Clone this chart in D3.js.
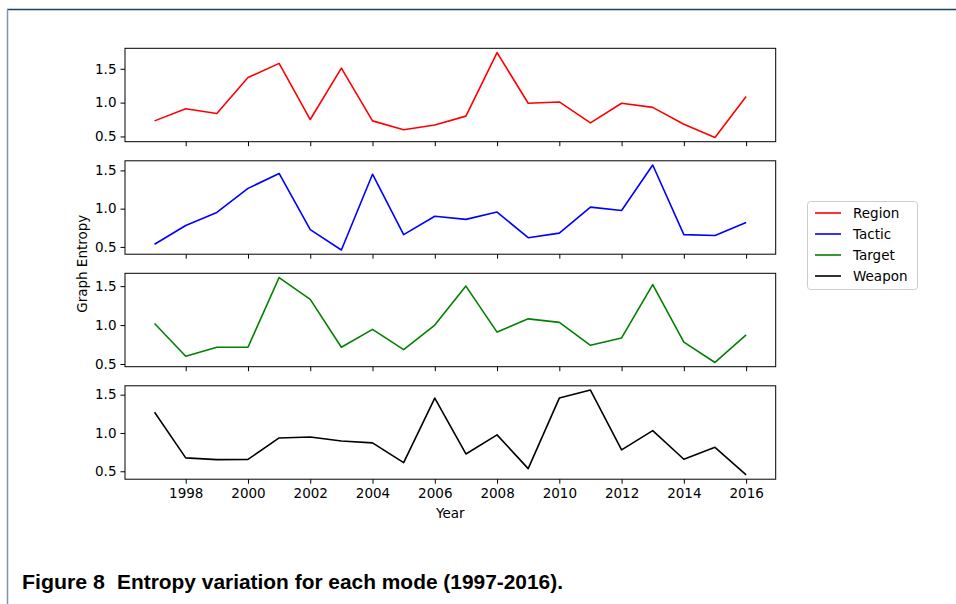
<!DOCTYPE html>
<html>
<head>
<meta charset="utf-8">
<script src="https://cdn.jsdelivr.net/npm/d3@7/dist/d3.min.js"></script>
<style>
  body { margin: 0; background: #fff; }
  svg { display: block; }
  .tick text { font-family: "DejaVu Sans", sans-serif; font-size: 13.5px; fill: #000; }
  .axis-label { font-family: "DejaVu Sans", sans-serif; font-size: 13.5px; fill: #000; }
</style>
</head>
<body>
<script>
// values
const years = [1997, 1998, 1999, 2000, 2001, 2002, 2003, 2004, 2005, 2006,
               2007, 2008, 2009, 2010, 2011, 2012, 2013, 2014, 2015, 2016];
const region = [0.73, 0.91, 0.84, 1.37, 1.58, 0.75, 1.51, 0.73, 0.60, 0.67,
                0.80, 1.74, 0.99, 1.01, 0.70, 0.99, 0.93, 0.68, 0.485, 1.09];
const tactic = [0.535, 0.78, 0.95, 1.265, 1.46, 0.725, 0.46, 1.45, 0.66, 0.90,
                0.86, 0.955, 0.62, 0.68, 1.02, 0.975, 1.57, 0.66, 0.648, 0.82];
const target = [1.02, 0.60, 0.715, 0.715, 1.61, 1.33, 0.715, 0.945, 0.685, 1.00,
                1.50, 0.91, 1.08, 1.035, 0.74, 0.835, 1.52, 0.78, 0.52, 0.875];
const weapon = [1.27, 0.675, 0.652, 0.655, 0.935, 0.948, 0.895, 0.87, 0.612, 1.455,
                0.726, 0.975, 0.535, 1.455, 1.56, 0.78, 1.03, 0.657, 0.813, 0.452];
const seriesNames = ['Region', 'Tactic', 'Target', 'Weapon'];
const seriesColors = ['#ff0000', '#0000ff', '#008000', '#000000'];
const yTicks = [0.5, 1.0, 1.5];
const xTicks = [1998, 2000, 2002, 2004, 2006, 2008, 2010, 2012, 2014, 2016];

const allSeries = [region, tactic, target, weapon];

const width = 956, height = 604;
const left = 125, right = 775.7;
const top0 = 48.3, panelH = 93.4, gap = 19.1;

const svg = d3.select('body').append('svg')
  .attr('width', width)
  .attr('height', height);

// page frame lines
svg.append('line')
  .attr('x1', 7).attr('x2', width).attr('y1', 9.5).attr('y2', 9.5)
  .attr('stroke', '#1f3f63').attr('stroke-width', 1.5);
svg.append('line')
  .attr('x1', 7.5).attr('x2', 7.5).attr('y1', 9).attr('y2', height)
  .attr('stroke', '#7f95ad').attr('stroke-width', 1.5);

function padded(ext) {
  const p = (ext[1] - ext[0]) * 0.05;
  return [ext[0] - p, ext[1] + p];
}

const x = d3.scaleLinear()
  .domain(padded(d3.extent(years)))
  .range([left, right]);

allSeries.forEach((vals, i) => {
  const top = top0 + i * (panelH + gap);
  const y = d3.scaleLinear()
    .domain(padded(d3.extent(vals)))
    .range([top + panelH, top]);

  const g = svg.append('g');

  g.append('path')
    .datum(vals)
    .attr('fill', 'none')
    .attr('stroke', seriesColors[i])
    .attr('stroke-width', 1.6)
    .attr('stroke-linejoin', 'round')
    .attr('d', d3.line().x((d, j) => x(years[j])).y(d => y(d)));

  g.append('g')
    .attr('transform', `translate(${left},0)`)
    .call(d3.axisLeft(y).tickValues(yTicks).tickFormat(d3.format('.1f')).tickSize(4.5).tickPadding(4))
    .call(a => a.select('.domain').remove());

  g.append('g')
    .attr('transform', `translate(0,${top + panelH})`)
    .call(d3.axisBottom(x).tickValues(xTicks).tickFormat(i === 3 ? d3.format('d') : '').tickSize(4.5).tickPadding(5))
    .call(a => a.select('.domain').remove());

  g.selectAll('.tick line').attr('stroke', '#000').attr('stroke-width', 1);

  g.append('rect')
    .attr('x', left).attr('y', top)
    .attr('width', right - left).attr('height', panelH)
    .attr('fill', 'none').attr('stroke', '#000').attr('stroke-width', 1);
});

// axis labels
svg.append('text')
  .attr('class', 'axis-label')
  .attr('transform', `translate(87,${top0 + (4 * panelH + 3 * gap) / 2}) rotate(-90)`)
  .attr('text-anchor', 'middle')
  .text('Graph Entropy');

svg.append('text')
  .attr('class', 'axis-label')
  .attr('x', (left + right) / 2)
  .attr('y', 518)
  .attr('text-anchor', 'middle')
  .text('Year');

// legend
const legend = svg.append('g').attr('transform', 'translate(807,201)');
legend.append('rect')
  .attr('x', 0.5).attr('y', 0.5).attr('width', 110).attr('height', 88).attr('rx', 3)
  .attr('fill', '#fff').attr('stroke', '#cccccc');
const items = legend.selectAll('g.item')
  .data(seriesNames)
  .enter()
  .append('g')
  .attr('class', 'item')
  .attr('transform', (d, i) => `translate(0,${12 + i * 21})`);
items.append('line')
  .attr('x1', 8).attr('x2', 34)
  .attr('stroke', (d, i) => seriesColors[i])
  .attr('stroke-width', 1.6);
items.append('text')
  .attr('class', 'axis-label')
  .attr('x', 46).attr('y', 5)
  .text(d => d);

// caption
const capStyle = t => t
  .attr('font-family', '"Liberation Sans", Arial, sans-serif')
  .attr('font-weight', 'bold')
  .attr('font-size', 19.5)
  .attr('fill', '#000')
  .attr('lengthAdjust', 'spacingAndGlyphs');
svg.append('text').call(capStyle)
  .attr('x', 22).attr('y', 589)
  .attr('textLength', 83)
  .text('Figure 8');
svg.append('text').call(capStyle)
  .attr('x', 117).attr('y', 589)
  .attr('textLength', 446)
  .text('Entropy variation for each mode (1997-2016).');
</script>
</body>
</html>
